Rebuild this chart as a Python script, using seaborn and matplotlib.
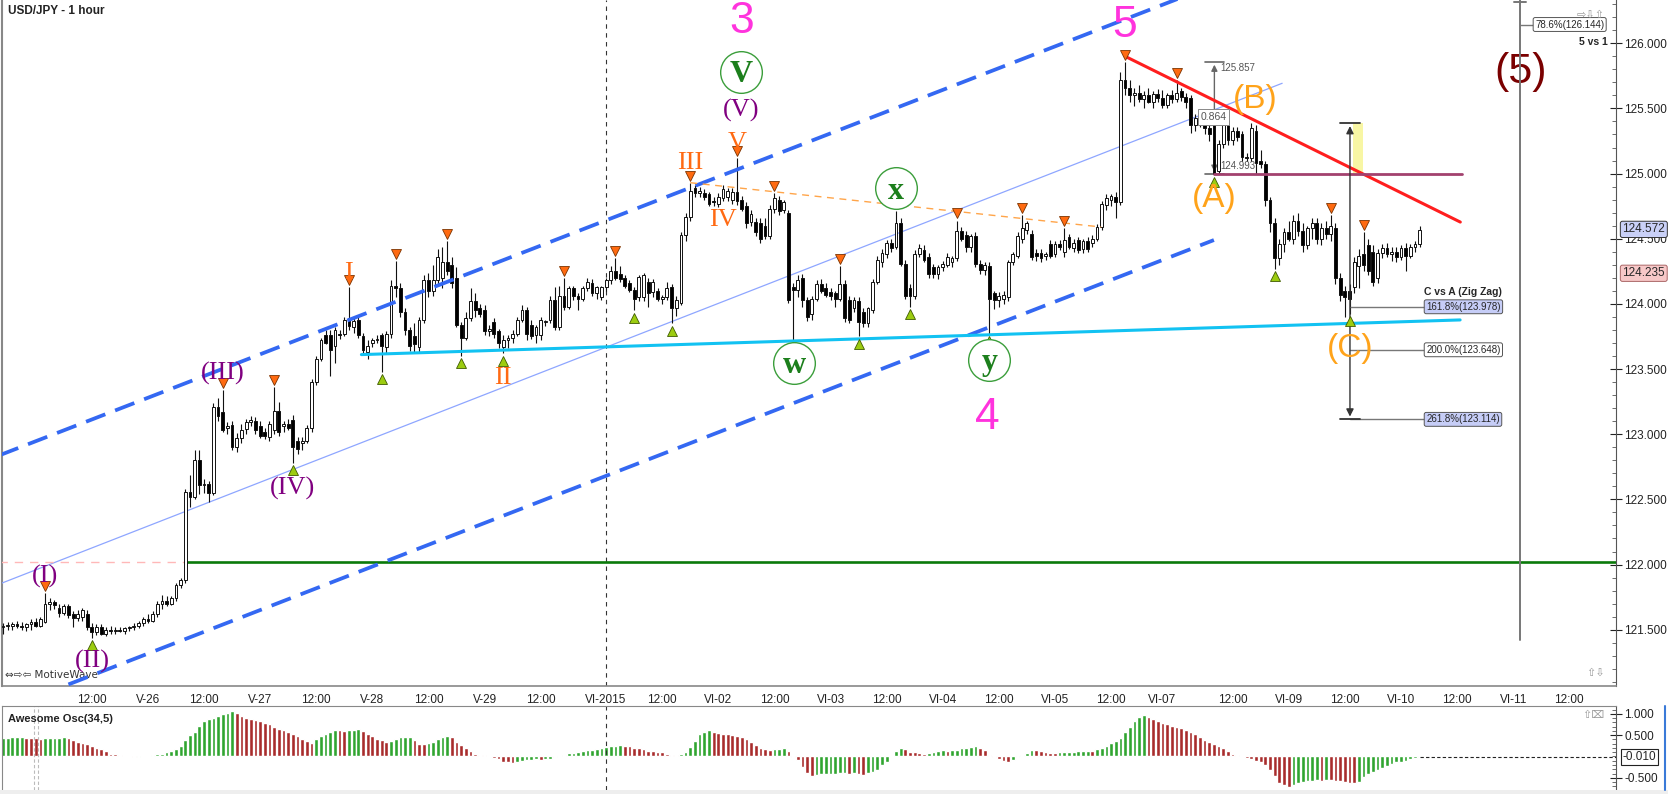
import numpy as np
import pandas as pd
import seaborn as sns
import matplotlib.pyplot as plt
from matplotlib.patches import Rectangle
from matplotlib.lines import Line2D

# USD/JPY hourly candles, bar 0 = first visible bar
opens = [
    121.52,121.53,121.53,121.54,121.53,121.52,121.54,121.56,121.53,121.56,
    121.70,121.71,121.67,121.63,121.68,121.62,121.59,121.60,121.62,121.52,
    121.48,121.52,121.47,121.50,121.49,121.50,121.49,121.51,121.52,121.53,
    121.55,121.58,121.57,121.62,121.70,121.72,121.70,121.74,121.84,121.88,
    122.56,122.52,122.80,122.61,122.62,122.55,123.21,123.17,123.05,123.07,
    122.90,122.97,123.04,123.09,123.10,123.06,123.02,122.98,123.03,123.18,
    123.06,123.08,123.11,122.95,122.93,122.95,123.05,123.40,123.58,123.76,
    123.76,123.68,123.77,123.77,123.89,123.82,123.88,123.75,123.63,123.70,
    123.72,123.76,123.67,123.77,124.14,124.12,123.94,123.80,123.75,123.67,
    123.88,124.18,124.10,124.18,124.20,124.32,124.30,124.20,123.84,123.74,
    123.89,124.02,123.97,123.95,123.79,123.86,123.79,123.67,123.72,123.74,
    123.77,123.88,123.95,123.84,123.76,123.76,123.86,123.88,124.03,123.82,
    124.06,123.98,124.12,124.06,124.04,124.12,124.16,124.08,124.05,124.13,
    124.18,124.25,124.23,124.20,124.16,124.11,124.05,124.05,124.17,124.09,
    124.10,124.04,124.05,124.13,123.97,124.01,124.53,124.67,124.89,124.85,
    124.85,124.84,124.79,124.77,124.81,124.82,124.80,124.86,124.80,124.75,
    124.63,124.63,124.62,124.60,124.52,124.73,124.80,124.72,124.70,124.13,
    124.11,124.20,124.03,123.92,124.04,124.15,124.12,124.09,124.08,124.04,
    124.15,124.03,123.97,124.02,123.94,123.85,123.95,124.17,124.32,124.38,
    124.47,124.44,124.62,124.31,124.12,124.06,124.38,124.41,124.36,124.28,
    124.23,124.28,124.30,124.32,124.35,124.56,124.53,124.44,124.52,124.31,
    124.26,124.29,124.08,124.03,124.04,124.05,124.32,124.37,124.50,124.57,
    124.54,124.39,124.39,124.37,124.46,124.38,124.46,124.40,124.51,124.43,
    124.49,124.42,124.48,124.47,124.50,124.59,124.76,124.80,124.82,124.78,
    125.72,125.66,125.60,125.62,125.57,125.60,125.55,125.61,125.58,125.53,
    125.60,125.57,125.63,125.59,125.58,125.37,125.43,125.40,125.35,125.38,
    125.02,125.23,125.40,125.26,125.33,125.30,125.13,125.12,125.33,125.10,
    125.07,124.80,124.62,124.35,124.46,124.55,124.50,124.64,124.56,124.45,
    124.58,124.62,124.50,124.58,124.54,124.58,124.20,124.10,124.10,124.13,
    124.29,124.38,124.45,124.40,124.20,124.39,124.43,124.38,124.40,124.36,
    124.43,124.37,124.44,124.46,
]
highs = [
    121.55,121.56,121.56,121.57,121.56,121.55,121.58,121.59,121.60,121.78,
    121.74,121.73,121.70,121.70,121.70,121.64,121.65,121.67,121.65,121.55,
    121.54,121.54,121.52,121.53,121.52,121.52,121.52,121.53,121.55,121.57,
    121.60,121.62,121.64,121.72,121.77,121.76,121.76,121.86,121.90,122.58,
    122.69,122.88,122.88,122.66,122.64,123.24,123.28,123.34,123.09,123.10,
    123.01,123.08,123.12,123.14,123.13,123.10,123.05,123.10,123.36,123.25,
    123.10,123.12,123.15,122.98,122.98,123.07,123.42,123.60,123.74,123.80,
    123.80,123.82,123.80,123.90,124.13,123.89,123.91,123.78,123.72,123.74,
    123.76,123.78,123.79,124.18,124.33,124.16,123.97,123.82,123.85,123.90,
    124.22,124.24,124.30,124.42,124.44,124.48,124.36,124.28,123.86,123.94,
    124.12,124.08,124.00,123.99,123.84,123.89,123.81,123.76,123.76,123.80,
    123.90,123.99,123.98,123.88,123.84,123.90,123.88,124.06,124.13,124.14,
    124.20,124.14,124.14,124.08,124.14,124.20,124.19,124.14,124.14,124.20,
    124.29,124.35,124.29,124.22,124.18,124.13,124.22,124.24,124.20,124.19,
    124.12,124.07,124.17,124.15,124.06,124.55,124.70,124.93,124.91,124.90,
    124.88,124.86,124.82,124.85,124.91,124.89,124.89,125.12,124.83,124.78,
    124.72,124.66,124.66,124.66,124.76,124.85,124.83,124.80,124.72,124.16,
    124.22,124.23,124.05,124.06,124.18,124.19,124.16,124.12,124.10,124.29,
    124.18,124.06,124.05,124.05,123.97,123.98,124.19,124.37,124.42,124.49,
    124.50,124.71,124.66,124.34,124.15,124.41,124.46,124.45,124.39,124.31,
    124.30,124.33,124.39,124.37,124.64,124.59,124.56,124.54,124.55,124.34,
    124.32,124.32,124.10,124.09,124.10,124.34,124.40,124.55,124.68,124.64,
    124.57,124.42,124.42,124.40,124.49,124.48,124.49,124.58,124.54,124.50,
    124.51,124.50,124.51,124.53,124.61,124.79,124.84,124.84,124.86,125.78,
    125.857,125.72,125.66,125.68,125.63,125.66,125.63,125.65,125.64,125.62,
    125.64,125.72,125.66,125.62,125.60,125.46,125.48,125.45,125.40,125.42,
    125.26,125.42,125.46,125.36,125.36,125.33,125.16,125.39,125.37,125.18,
    125.10,124.82,124.66,124.50,124.58,124.64,124.68,124.70,124.62,124.60,
    124.66,124.66,124.62,124.64,124.68,124.62,124.24,124.14,124.15,124.36,
    124.42,124.55,124.50,124.45,124.42,124.46,124.47,124.44,124.44,124.45,
    124.47,124.46,124.48,124.60,
]
lows = [
    121.47,121.50,121.50,121.51,121.50,121.49,121.50,121.52,121.52,121.55,
    121.65,121.66,121.60,121.61,121.59,121.52,121.57,121.57,121.50,121.44,
    121.46,121.46,121.45,121.47,121.47,121.48,121.47,121.49,121.50,121.51,
    121.53,121.55,121.56,121.60,121.66,121.68,121.69,121.72,121.82,121.86,
    122.44,122.50,122.54,122.55,122.48,122.53,123.10,123.02,123.00,122.88,
    122.86,122.93,123.00,123.06,123.00,122.97,122.96,122.95,123.00,122.99,
    123.02,123.03,122.78,122.85,122.88,122.93,123.02,123.38,123.56,123.69,
    123.45,123.55,123.73,123.75,123.80,123.78,123.74,123.62,123.58,123.67,
    123.70,123.48,123.62,123.74,124.05,123.90,123.76,123.64,123.63,123.63,
    123.85,124.05,124.06,124.14,124.12,124.22,124.12,123.82,123.60,123.72,
    123.87,123.90,123.90,123.76,123.75,123.74,123.66,123.62,123.66,123.70,
    123.75,123.86,123.72,123.73,123.70,123.72,123.83,123.85,123.80,123.80,
    123.95,123.96,124.03,123.95,124.02,124.10,124.06,124.04,124.03,124.10,
    124.15,124.18,124.17,124.12,124.09,123.95,124.02,124.02,123.98,124.05,
    124.02,124.00,124.03,123.85,123.91,123.99,124.48,124.64,124.82,124.82,
    124.80,124.75,124.75,124.74,124.79,124.79,124.77,124.76,124.71,124.58,
    124.60,124.52,124.47,124.50,124.50,124.70,124.68,124.70,124.01,123.72,
    124.05,123.98,123.87,123.88,124.02,124.08,124.05,124.03,123.98,124.02,
    123.86,123.85,123.94,123.75,123.82,123.82,123.93,124.15,124.28,124.35,
    124.40,124.42,124.29,124.04,123.98,124.04,124.36,124.32,124.20,124.20,
    124.19,124.25,124.28,124.28,124.33,124.48,124.40,124.40,124.28,124.23,
    124.22,123.77,123.96,123.98,124.00,124.02,124.30,124.35,124.47,124.54,
    124.34,124.33,124.32,124.34,124.35,124.36,124.41,124.36,124.42,124.40,
    124.39,124.39,124.40,124.44,124.48,124.57,124.72,124.75,124.66,124.76,
    125.60,125.55,125.52,125.55,125.50,125.54,125.50,125.55,125.50,125.50,
    125.54,125.55,125.56,125.50,125.31,125.33,125.36,125.30,125.25,124.993,
    125.00,125.20,125.22,125.22,125.25,125.10,125.10,125.10,125.00,125.04,
    124.75,124.55,124.27,124.30,124.40,124.48,124.46,124.52,124.40,124.42,
    124.50,124.46,124.45,124.50,124.48,124.15,124.02,123.90,123.92,124.08,
    124.12,124.25,124.22,124.14,124.16,124.35,124.36,124.33,124.32,124.34,
    124.25,124.35,124.40,124.44,
]
closes = [
    121.53,121.53,121.54,121.53,121.52,121.54,121.56,121.53,121.58,121.70,
    121.71,121.69,121.63,121.68,121.61,121.59,121.62,121.65,121.52,121.48,
    121.52,121.47,121.50,121.49,121.50,121.49,121.51,121.52,121.53,121.55,
    121.58,121.57,121.62,121.70,121.72,121.70,121.74,121.84,121.88,122.56,
    122.52,122.80,122.61,122.62,122.55,123.21,123.14,123.03,123.06,122.90,
    122.97,123.03,123.09,123.11,123.03,122.99,122.99,123.08,123.18,123.02,
    123.08,123.05,122.90,122.89,122.95,123.05,123.40,123.58,123.72,123.70,
    123.65,123.80,123.76,123.88,123.83,123.87,123.76,123.65,123.68,123.72,
    123.73,123.68,123.77,124.14,124.12,123.94,123.80,123.68,123.69,123.88,
    124.18,124.10,124.18,124.36,124.32,124.25,124.16,123.84,123.74,123.89,
    124.02,123.95,123.92,123.79,123.81,123.77,123.70,123.72,123.74,123.77,
    123.88,123.95,123.77,123.75,123.82,123.88,123.86,124.03,123.82,124.06,
    123.98,124.12,124.06,124.04,124.12,124.17,124.08,124.13,124.13,124.18,
    124.25,124.20,124.19,124.14,124.11,124.04,124.21,124.22,124.08,124.17,
    124.04,124.05,124.12,123.97,124.03,124.53,124.67,124.87,124.85,124.87,
    124.82,124.77,124.78,124.82,124.88,124.87,124.86,124.79,124.73,124.62,
    124.69,124.55,124.50,124.52,124.73,124.81,124.71,124.78,124.03,124.11,
    124.18,124.03,123.90,124.04,124.15,124.10,124.07,124.06,124.04,124.15,
    123.89,123.88,124.03,123.86,123.85,123.97,124.17,124.34,124.39,124.47,
    124.43,124.62,124.31,124.06,124.06,124.38,124.43,124.34,124.23,124.23,
    124.28,124.31,124.36,124.35,124.56,124.50,124.44,124.52,124.31,124.26,
    124.30,124.04,124.03,124.06,124.07,124.32,124.38,124.52,124.58,124.62,
    124.36,124.37,124.35,124.38,124.37,124.46,124.44,124.49,124.44,124.47,
    124.41,124.48,124.42,124.50,124.59,124.77,124.81,124.83,124.78,125.72,
    125.66,125.60,125.62,125.57,125.60,125.55,125.61,125.58,125.53,125.60,
    125.57,125.62,125.59,125.55,125.37,125.43,125.40,125.35,125.30,125.00,
    125.23,125.38,125.26,125.33,125.28,125.13,125.12,125.35,125.08,125.07,
    124.80,124.62,124.35,124.46,124.55,124.50,124.64,124.56,124.45,124.58,
    124.62,124.50,124.58,124.54,124.60,124.20,124.07,124.05,124.04,124.32,
    124.37,124.30,124.25,124.17,124.39,124.43,124.38,124.40,124.36,124.43,
    124.37,124.44,124.46,124.57,
]
# Awesome Oscillator (34,5) values per bar
ao_values = [
    0.43,0.44,0.45,0.455,0.46,0.44,0.43,0.425,0.42,0.425,
    0.43,0.44,0.445,0.45,0.43,0.39,0.35,0.31,0.29,0.25,
    0.21,0.17,0.12,0.07,0.05,0.03,0.01,0.005,-0.003,-0.001,
    0.004,0.01,0.03,0.05,0.07,0.10,0.14,0.18,0.25,0.39,
    0.50,0.58,0.72,0.84,0.89,0.91,0.96,1.00,1.03,1.06,
    1.01,0.96,0.90,0.88,0.86,0.83,0.79,0.75,0.70,0.65,
    0.61,0.57,0.52,0.47,0.40,0.36,0.32,0.40,0.47,0.53,
    0.58,0.62,0.61,0.605,0.62,0.63,0.64,0.59,0.52,0.47,
    0.42,0.39,0.34,0.37,0.42,0.45,0.455,0.46,0.39,0.29,
    0.285,0.31,0.35,0.41,0.46,0.49,0.46,0.35,0.28,0.21,
    0.12,0.07,0.04,0.03,0.00,-0.04,-0.07,-0.12,-0.14,-0.145,
    -0.13,-0.10,-0.09,-0.08,-0.07,-0.09,-0.07,-0.05,-0.02,0.01,
    0.04,0.08,0.09,0.10,0.14,0.15,0.16,0.17,0.19,0.22,
    0.24,0.25,0.26,0.25,0.24,0.21,0.19,0.17,0.14,0.12,
    0.115,0.10,0.07,0.04,0.03,0.05,0.11,0.23,0.37,0.52,
    0.58,0.61,0.58,0.56,0.53,0.52,0.50,0.49,0.45,0.40,
    0.34,0.28,0.21,0.17,0.16,0.17,0.18,0.19,0.13,-0.02,
    -0.08,-0.24,-0.39,-0.45,-0.43,-0.42,-0.41,-0.405,-0.40,-0.39,
    -0.38,-0.40,-0.39,-0.41,-0.43,-0.39,-0.36,-0.32,-0.21,-0.12,
    0.00,0.14,0.19,0.17,0.11,0.10,0.08,0.06,0.09,0.11,
    0.14,0.145,0.14,0.15,0.155,0.19,0.21,0.23,0.24,0.21,
    0.15,0.04,-0.02,-0.07,-0.10,-0.13,-0.08,-0.02,0.04,0.09,
    0.15,0.145,0.14,0.11,0.09,0.085,0.10,0.105,0.11,0.115,
    0.12,0.125,0.13,0.128,0.17,0.21,0.25,0.31,0.36,0.44,
    0.58,0.70,0.83,0.93,0.97,0.92,0.87,0.82,0.78,0.75,
    0.71,0.70,0.66,0.62,0.58,0.53,0.45,0.39,0.34,0.29,
    0.25,0.19,0.14,0.07,0.04,0.00,-0.03,-0.07,-0.11,-0.14,
    -0.21,-0.32,-0.46,-0.61,-0.67,-0.71,-0.67,-0.61,-0.59,-0.57,
    -0.565,-0.55,-0.57,-0.54,-0.55,-0.57,-0.58,-0.60,-0.61,-0.615,
    -0.59,-0.47,-0.41,-0.36,-0.32,-0.28,-0.22,-0.18,-0.14,-0.12,
    -0.10,-0.07,-0.04,-0.01,
]

time_tick_bars = [4, 19, 31, 43, 55, 67, 79, 91, 103, 115, 129, 141, 153, 165, 177,
                  189, 201, 213, 225, 237, 248, 263, 275, 287, 299, 311, 323, 335]
time_tick_labels = ['', '12:00', 'V-26', '12:00', 'V-27', '12:00', 'V-28', '12:00',
                    'V-29', '12:00', 'VI-2015', '12:00', 'VI-02', '12:00', 'VI-03',
                    '12:00', 'VI-04', '12:00', 'VI-05', '12:00', 'VI-07', '12:00',
                    'VI-09', '12:00', 'VI-10', '12:00', 'VI-11', '12:00']
price_ticks = [121.5, 122.0, 122.5, 123.0, 123.5, 124.0, 124.5, 125.0, 125.5, 126.0]

swing_high_bars = [9, 47, 58, 74, 84, 95, 120, 131, 147, 157, 165, 179, 191, 204,
                   218, 227, 240, 251, 284, 291]
swing_low_bars = [19, 62, 81, 98, 107, 135, 143, 169, 183, 194, 211, 259, 272, 288]

fib_levels = [123.978, 123.648, 123.114]
fib_labels = ['161.8%(123.978)', '200.0%(123.648)', '261.8%(123.114)']

# ---------------------------------------------------------------------------
sns.set_style('white')
plt.rcParams['font.family'] = ['Liberation Sans', 'DejaVu Sans']

df = pd.DataFrame({'open': opens, 'high': highs, 'low': lows, 'close': closes})
df['bar'] = np.arange(len(df))
osc = pd.DataFrame({'bar': np.arange(len(ao_values)), 'ao': ao_values})
osc['dir'] = np.where(osc['ao'].diff().fillna(1) > 0, 'up', 'down')

W, H = 1668, 794
fig = plt.figure(figsize=(W / 100, H / 100), dpi=100)
ax = fig.add_axes([2 / W, 1 - 686 / H, 1614 / W, 686 / H])
ax_osc = fig.add_axes([2 / W, 1 - 790 / H, 1614 / W, 84 / H])
xlim = (-0.21, 345.0)

# candles
up = df['close'] >= df['open']
body_lo = np.minimum(df['open'], df['close'])
body_h = np.maximum((df['close'] - df['open']).abs(), 0.007)
ax.vlines(df['bar'], df['low'], df['high'], color='#111111', lw=0.8, zorder=4)
ax.bar(df['bar'], body_h, bottom=body_lo, width=0.6,
       color=np.where(up, 'white', 'black'), edgecolor='#111111', lw=0.7, zorder=5)

# channel and trend lines
dash = dict(color='#3468f2', lw=2.7, dashes=(5.5, 2.8), solid_capstyle='butt', zorder=6)
ax.plot([-1, 280], [122.835, 126.74], **dash)
ax.plot([14, 259], [121.08, 124.49], **dash)
ax.plot([-1, 273.6], [121.847, 125.693], color='#8ea6ff', lw=0.9, zorder=3)
ax.plot([76.66, 311.66], [123.611, 123.877], color='#12c2f2', lw=2.2, zorder=6)
ax.plot([147, 234.9], [124.93, 124.59], color='#ffa54a', lw=1.0, dashes=(5, 4), zorder=6)
ax.plot([39, 345], [122.02, 122.02], color='#0a7a0a', lw=1.9, zorder=3)
ax.plot([-1, 39], [122.02, 122.02], color='#ffb8b8', lw=1.0, dashes=(6, 5), zorder=3)
ax.plot([240, 311.7], [125.9, 124.628], color='#ff1e1e', lw=2.2, zorder=6)
ax.plot([259, 312.1], [124.993, 124.993], color='#a2416e', lw=2.0, zorder=6)
ax.axvline(129.07, color='#333333', lw=0.8, dashes=(4, 4), zorder=2)
ax_osc.axvline(129.07, color='#333333', lw=0.8, dashes=(4, 4), zorder=2)
for b in (6.7, 7.4):
    ax_osc.axvline(b, color='#bbbbbb', lw=0.8, dashes=(3, 2))

# A-B measure
gray = '#666666'
ax.annotate('', xy=(259.1, 125.857), xytext=(259.1, 124.993),
            arrowprops=dict(arrowstyle='<|-|>', color=gray, lw=1.0, mutation_scale=9))
ax.plot([257.0, 261.2], [125.857, 125.857], color=gray, lw=1.2)
ax.plot([257.0, 261.2], [124.993, 124.993], color=gray, lw=1.2)
ax.text(260.4, 125.81, '125.857', fontsize=7, color='#555555', va='center')
ax.text(260.4, 125.06, '124.993', fontsize=7, color='#555555', va='center')
ax.text(258.9, 125.434, '0.864', fontsize=7.5, color='#555555', ha='center', va='center',
        bbox=dict(boxstyle='square,pad=0.25', fc='white', ec='#888888', lw=0.7), zorder=8)

# C vs A measure
ax.add_patch(Rectangle((288.8, 124.993), 2.1, 0.393, fc='#f8f6a4', ec='none', zorder=5))
ax.annotate('', xy=(288.1, 125.386), xytext=(288.1, 123.114),
            arrowprops=dict(arrowstyle='<|-|>', color='#333333', lw=1.0, mutation_scale=11),
            zorder=7)
ax.plot([285.9, 290.3], [125.386, 125.386], color='#333333', lw=1.3, zorder=7)
ax.plot([285.9, 290.3], [123.114, 123.114], color='#333333', lw=1.3, zorder=7)
for lvl, lab, fc in zip(fib_levels, fib_labels, ['#c6cdf7', 'white', '#c6cdf7']):
    ax.plot([288.1, 304.2], [lvl, lvl], color='#777777', lw=1.0, zorder=6)
    ax.text(304.4, lvl, lab, fontsize=7, va='center', ha='left', zorder=8,
            bbox=dict(boxstyle='round,pad=0.2', fc=fc, ec='#555555', lw=0.7))
ax.text(320.6, 124.09, 'C vs A (Zig Zag)', fontsize=7.5, fontweight='bold',
        ha='right', va='center')

# (5) vertical projection
ax.plot([324.5, 324.5], [121.42, 126.34], color='#777777', lw=1.4, zorder=6)
ax.plot([323.2, 325.8], [126.32, 126.32], color='#777777', lw=1.4)
ax.plot([324.5, 327.5], [126.144, 126.144], color='#777777', lw=1.0)
ax.text(327.7, 126.144, '78.6%(126.144)', fontsize=7, va='center', ha='left',
        bbox=dict(boxstyle='round,pad=0.2', fc='white', ec='#555555', lw=0.7))
ax.text(343.2, 126.01, '5 vs 1', fontsize=7.5, fontweight='bold', ha='right', va='center')

# swing markers
hi = df.loc[swing_high_bars]
lo = df.loc[swing_low_bars]
ax.plot(hi['bar'], hi['high'] + 0.055, 'v', ms=7.5, mfc='#ff6a10', mec='#7a3300',
        mew=0.6, zorder=9, ls='none')
ax.plot(lo['bar'], lo['low'] - 0.055, '^', ms=7.5, mfc='#9ccc10', mec='#3f5a00',
        mew=0.6, zorder=9, ls='none')

# wave labels
magenta = '#ff33dd'
for s, (b, p) in {'3': (157.9, 126.17), '5': (239.8, 126.14), '4': (210.5, 123.13)}.items():
    ax.text(b, p, s, color=magenta, fontsize=32, ha='center', va='center', zorder=10)
ax.text(324.5, 125.78, '(5)', color='#7a0000', fontsize=31, ha='center', va='center')

purple = '#800080'
serif = ['Liberation Serif', 'DejaVu Serif']
for s, (b, p) in {'(I)': (8.9, 121.906), '(II)': (19.04, 121.254), '(III)': (47.06, 123.467),
                  '(IV)': (62.03, 122.585), '(V)': (157.9, 125.487)}.items():
    ax.text(b, p, s, color=purple, fontsize=19, family=serif, ha='center', va='center',
            zorder=10)

orange = '#ff6a13'
for s, (b, p) in {'I': (74.0, 124.235), 'II': (106.95, 123.43), 'III': (147.0, 125.08),
                  'IV': (153.9, 124.644), 'V': (157.0, 125.234)}.items():
    ax.text(b, p, s, color=orange, fontsize=19, family=serif, ha='center', va='center',
            zorder=10)

abc = '#ffa31a'
for s, (b, p) in {'(A)': (259.0, 124.81), '(B)': (267.8, 125.565), '(C)': (288.1, 123.66)}.items():
    ax.text(b, p, s, color=abc, fontsize=24, ha='center', va='center', zorder=10)

green = '#1c7f1c'
for s, (b, p) in {'V': (157.9, 125.78), 'x': (190.95, 124.886), 'w': (169.2, 123.544),
                  'y': (211.0, 123.57)}.items():
    ax.plot(b, p, 'o', ms=30, mfc='white', mec='#3b9e3b', mew=1.0, zorder=9)
    ax.text(b, p - 0.02, s, color=green, fontsize=23, family=serif, fontweight='bold',
            ha='center', va='center', zorder=10)

# axes styling: main panel
ax.set_xlim(xlim)
ax.set_ylim(121.068, 126.332)
ax.yaxis.tick_right()
ax.set_yticks(price_ticks)
ax.set_yticklabels([f'{t:.3f}' for t in price_ticks])
ax.set_yticks(np.arange(121.1, 126.35, 0.1), minor=True)
ax.tick_params(axis='y', which='major', direction='inout', length=8, width=0.8,
               pad=2, labelsize=8.5, colors='#222222')
ax.tick_params(axis='y', which='minor', direction='in', length=3, width=0.6, colors='#555555')
ax.set_xticks(time_tick_bars)
ax.set_xticklabels(time_tick_labels)
ax.tick_params(axis='x', direction='out', length=4, width=0.8, pad=2, labelsize=8.5,
               colors='#222222')
ax.spines['top'].set_visible(False)
ax.spines['left'].set_color('#888888')
ax.spines['left'].set_linewidth(1.5)
ax.spines['right'].set_color('#555555')
ax.spines['bottom'].set_color('#888888')
ax.spines['bottom'].set_linewidth(1.2)
ax.grid(False)

label_tr = ax.get_yaxis_transform()
ax.text(1.004, 124.572, '124.572', transform=label_tr, fontsize=8.5, va='center',
        bbox=dict(boxstyle='round,pad=0.18', fc='#c9d0f7', ec='#333333', lw=0.7), clip_on=False)
ax.text(1.004, 124.235, '124.235', transform=label_tr, fontsize=8.5, va='center',
        bbox=dict(boxstyle='round,pad=0.18', fc='#f7c8c8', ec='#aa6666', lw=0.7), clip_on=False)

ax.text(0.002, 0.016, '⇔⇨⇦ MotiveWave', transform=ax.transAxes, fontsize=7.5,
        color='#333333', family=['DejaVu Sans'], va='center')
ax.text(0.993, 0.985, '⇨⇩⇧', transform=ax.transAxes, fontsize=8, color='#999999',
        family=['DejaVu Sans'], ha='right', va='top')
ax.text(0.993, 0.012, '⇧⇩', transform=ax.transAxes, fontsize=8, color='#999999',
        family=['DejaVu Sans'], ha='right', va='bottom')

# oscillator panel (seaborn bars)
sns.barplot(data=osc, x='bar', y='ao', hue='dir', palette={'up': '#30a530', 'down': '#a82c2c'},
            dodge=False, width=0.8, saturation=1, errorbar=None, legend=False, ax=ax_osc)
ax_osc.set_xlim(xlim)
ax_osc.set_ylim(-0.785, 1.183)
ax_osc.plot([303, 345], [-0.01, -0.01], color='#222222', lw=0.8, dashes=(3, 2))
ax_osc.set_xticks([])
ax_osc.set_xlabel('')
ax_osc.set_ylabel('')
ax.set_xlabel('')
ax.set_ylabel('')
ax_osc.yaxis.tick_right()
ax_osc.set_yticks([1.0, 0.5, -0.5])
ax_osc.set_yticklabels(['1.000', '0.500', '-0.500'])
ax_osc.set_yticks(np.arange(-0.7, 1.15, 0.1), minor=True)
ax_osc.tick_params(axis='y', which='major', direction='inout', length=8, width=0.8,
                   pad=2, labelsize=8.5, colors='#222222')
ax_osc.tick_params(axis='y', which='minor', direction='in', length=3, width=0.6,
                   colors='#555555')
ax_osc.spines['bottom'].set_visible(False)
ax_osc.spines['left'].set_color('#888888')
ax_osc.spines['top'].set_color('#888888')
ax_osc.spines['right'].set_color('#555555')
ax_osc.text(0.004, 0.84, 'Awesome Osc(34,5)', transform=ax_osc.transAxes, fontsize=8,
            fontweight='bold', color='#222222', va='center')
ax_osc.text(1.004, -0.01, '-0.010', transform=ax_osc.get_yaxis_transform(), fontsize=8.5,
            va='center', bbox=dict(boxstyle='square,pad=0.15', fc='white', ec='#222222', lw=0.8),
            clip_on=False)
ax_osc.text(0.993, 0.95, '⇧⌧', transform=ax_osc.transAxes, fontsize=8, color='#999999',
            family=['DejaVu Sans'], ha='right', va='top')

fig.text(8 / W, 1 - 11 / H, 'USD/JPY - 1 hour', fontsize=8.5, fontweight='bold',
         color='#222222', va='center')
fig.add_artist(Line2D([1665 / W, 1665 / W], [1 - 790 / H, 1 - 706 / H], color='#3a7ad8', lw=1.5))
fig.add_artist(Rectangle((0, 0), 1, 4 / H, transform=fig.transFigure, fc='#eeeeee', ec='none'))

fig.savefig('out.png', dpi=100)
